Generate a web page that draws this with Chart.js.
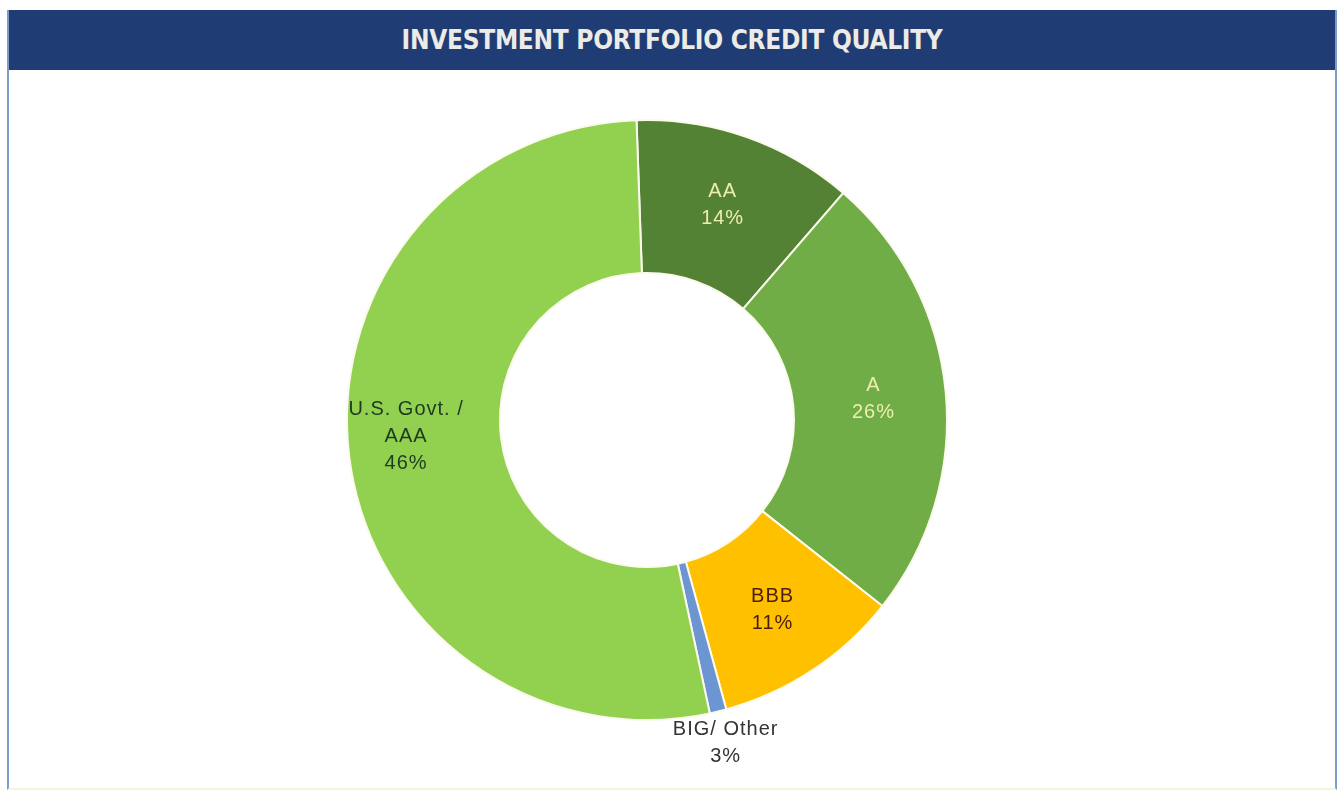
<!DOCTYPE html>
<html>
<head>
<meta charset="utf-8">
<script src="https://cdn.jsdelivr.net/npm/chart.js@4.4.1/dist/chart.umd.min.js"></script>
<style>
  html, body { margin: 0; padding: 0; background: #ffffff; }
  body { width: 1341px; height: 796px; position: relative; overflow: hidden; }
  #frame { position: absolute; left: 7px; top: 10px; width: 1326px; height: 778px;
           border-left: 2px solid #7f9cc6; border-right: 2px solid #7f9cc6; border-bottom: 2px solid #f6f3e0;
           background: #ffffff; }
  #header { position: absolute; left: 0; top: 0; width: 100%; height: 60px; background: #1f3d74;
            color: #ecebe6; font-family: "Liberation Sans Narrow", "DejaVu Sans Condensed", sans-serif;
            font-weight: bold; font-size: 26px; line-height: 60px; text-align: center; letter-spacing: -0.3px; }
  #wrap { position: absolute; left: 0; top: 0; width: 1341px; height: 796px; }
</style>
</head>
<body>
<div id="frame"><div id="header">INVESTMENT PORTFOLIO CREDIT QUALITY</div></div>
<div id="wrap"><canvas id="c" width="1341" height="796"></canvas></div>
<script>
// Categories clockwise from 12 o'clock
const categories = ["AA", "A", "BBB", "BIG/ Other", "U.S. Govt. / AAA"];
// Slice sizes as drawn in the picture (share of the circle, %)
const sliceValues = [11.9, 24.3, 10.1, 0.9, 52.8];
// Percent labels as printed on the chart
const printedPercents = ["14%", "26%", "11%", "3%", "46%"];
// Label text lines
const labelLines = [["AA"], ["A"], ["BBB"], ["BIG/ Other"], ["U.S. Govt. /", "AAA"]];
const sliceColors = ["#548235", "#70ad47", "#ffc000", "#6b96d2", "#92d050"];
const labelColors = ["#eeedb0", "#eeedb0", "#4a1d14", "#333333", "#1f3a1f"];
const outsideLabel = [false, false, false, true, false];

const labelPlugin = {
  id: 'sliceLabels',
  afterDatasetsDraw(chart) {
    const ctx = chart.ctx;
    const meta = chart.getDatasetMeta(0);
    ctx.save();
    ctx.font = '20px "Liberation Sans", Arial, sans-serif';
    if ('letterSpacing' in ctx) ctx.letterSpacing = '1px';
    ctx.textAlign = 'center';
    ctx.textBaseline = 'middle';
    meta.data.forEach((arc, i) => {
      const p = arc.getProps(['x', 'y', 'startAngle', 'endAngle', 'innerRadius', 'outerRadius'], true);
      let mid = (p.startAngle + p.endAngle) / 2;
      let r;
      if (outsideLabel[i]) r = p.outerRadius + 32;
      else r = (p.innerRadius + p.outerRadius) / 2 + 4;
      if (i === 4) { r += 14; mid += 0.055; }
      const cx = p.x + r * Math.cos(mid);
      const cy = p.y + r * Math.sin(mid);
      const lines = labelLines[i].concat([printedPercents[i]]);
      const lh = 27;
      ctx.fillStyle = labelColors[i];
      lines.forEach((t, k) => {
        ctx.fillText(t, cx, cy + (k - (lines.length - 1) / 2) * lh);
      });
    });
    ctx.restore();
  }
};

new Chart(document.getElementById('c'), {
  type: 'doughnut',
  data: {
    labels: categories,
    datasets: [{
      data: sliceValues,
      backgroundColor: sliceColors,
      borderColor: '#fbfaec',
      borderWidth: 2,
      hoverOffset: 0
    }]
  },
  options: {
    responsive: false,
    animation: false,
    rotation: -2,
    cutout: '49%',
    layout: { padding: { top: 119, bottom: 75, left: 0, right: 47 } },
    plugins: {
      legend: { display: false },
      title: { display: false },
      tooltip: { enabled: false }
    }
  },
  plugins: [labelPlugin]
});
</script>
</body>
</html>
